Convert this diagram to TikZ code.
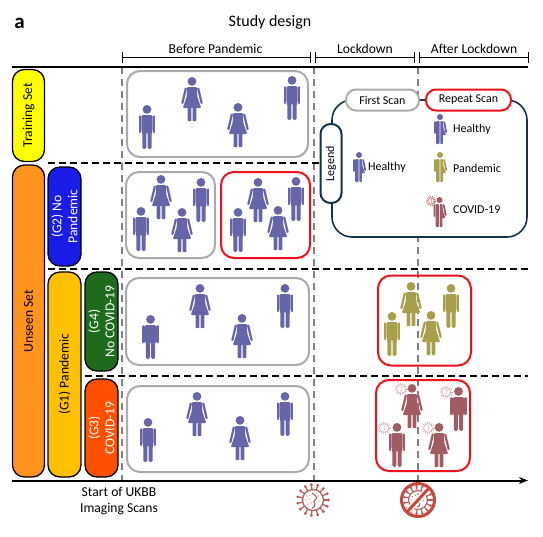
\documentclass[tikz,border=0pt]{standalone}
\usepackage{fontspec}
\setmainfont{Carlito}
\usetikzlibrary{arrows.meta}
\definecolor{hblue}{HTML}{6565A8}
\definecolor{polive}{HTML}{A89F4C}
\definecolor{cred}{HTML}{A05C62}
\definecolor{vred}{HTML}{B9605C}
\definecolor{banred}{HTML}{C9463C}
\definecolor{legnavy}{HTML}{12344A}
\definecolor{boxgray}{HTML}{ABABAB}
\definecolor{dashgray}{HTML}{808080}
\definecolor{scanred}{HTML}{F2101A}
\definecolor{trainyellow}{HTML}{FFFF00}
\definecolor{unseenorange}{HTML}{FF931E}
\definecolor{gtwoblue}{HTML}{1C1CE8}
\definecolor{goneyellow}{HTML}{FFC000}
\definecolor{gfourgreen}{HTML}{1E6B1E}
\definecolor{gthreeorange}{HTML}{FF5000}
\tikzset{
  healthy/.style={fill=hblue, draw=hblue},
  pandemic/.style={fill=polive, draw=polive},
  covid/.style={fill=cred, draw=cred},
  txt/.style={inner sep=0pt, font=\fontsize{13.6}{16}\selectfont},
  setbox/.style={draw=black, line width=1.3pt, rounded corners=12pt, inner sep=0pt, align=center, rotate=90, font=\fontsize{13.6}{16}\selectfont},
  graybox/.style={draw=boxgray, line width=2pt, rounded corners=13pt, inner sep=0pt},
  redbox/.style={draw=scanred, line width=2pt, rounded corners=13pt, inner sep=0pt},
  pill/.style={fill=white, line width=2pt, rounded corners=10pt, inner sep=0pt, minimum height=21pt, font=\fontsize{12}{14}\selectfont},
  timedash/.style={dashgray, line width=2pt, dash pattern=on 7pt off 5pt},
  rowdash/.style={black, line width=2pt, dash pattern=on 7pt off 4pt},
  span/.style={black, line width=1.3pt, {Bar[width=11pt]}-{Bar[width=11pt]}},
  man/.pic={
    \path[pic actions, draw=none] (0,4.4) circle[radius=4.4];
    \path[pic actions, draw=none, rounded corners=1.5pt] (-5.6,10) -- (5.6,10) -- (5.6,26) -- (4.6,28) -- (4.6,44) -- (0.6,44) -- (0.6,27) -- (-0.6,27) -- (-0.6,44) -- (-4.6,44) -- (-4.6,28) -- (-5.6,26) -- cycle;
    \path[pic actions, line width=2.6pt, line cap=round] (-7,11.5) -- (-7,27) (7,11.5) -- (7,27);
  },
  woman/.pic={
    \path[pic actions, draw=none] (0,4.4) circle[radius=4.4];
    \path[pic actions, draw=none, rounded corners=1pt] (-4.8,10) -- (4.8,10) -- (5.4,20) -- (9.2,31) -- (-9.2,31) -- (-5.4,20) -- cycle;
    \path[pic actions, draw=none, rounded corners=.8pt] (-4.4,30) -- (-0.7,30) -- (-0.7,44) -- (-4.4,44) -- cycle (0.7,30) -- (4.4,30) -- (4.4,44) -- (0.7,44) -- cycle;
    \path[pic actions, line width=2.2pt, line cap=round] (-6.2,11.5) -- (-9.6,26) (6.2,11.5) -- (9.6,26);
  },
  halfperson/.pic={
    \path[pic actions, draw=none] (0,3) circle[radius=3];
    \path[pic actions, draw=none, rounded corners=1pt] (-.3,7) -- (-3.8,7) -- (-3.8,30) -- (-.3,30) -- cycle;
    \path[pic actions, draw=none, rounded corners=.6pt] (.3,7) -- (2.8,7) -- (3.4,14) -- (6,21) -- (2.8,21) -- (2.8,30) -- (.3,30) -- cycle;
    \path[pic actions, line width=1.8pt, line cap=round] (-5,8) -- (-5,19) (4.2,8) -- (6.2,18);
  },
  virus/.pic={
    \begin{scope}[scale=#1, vred, line width=#1*1.3pt]
      \draw (0,0) circle[radius=10.5];
      \foreach \a in {0,24,...,336} {
        \draw (\a:10.5) -- (\a:15);
        \fill (\a:15.5) circle[radius=1.6];
      }
      \draw[line width=#1*1.1pt] (-1,8) .. controls (6,4) and (-2,2) .. (2,0) .. controls (6,-2) and (2,-5) .. (-1,-7);
      \foreach \x/\y in {-5/4,-7/0,-4/-1,-6/-4,-3/-5,5/-4,6/1,-2/3,3/-7,1/6} {
        \fill (\x,\y) circle[radius=.7];
      }
    \end{scope}
  },
  smallvirus/.pic={
    \begin{scope}[scale=.42, vred!60, line width=.5pt]
      \draw (0,0) circle[radius=10.5];
      \foreach \a in {0,24,...,336} {
        \draw (\a:10.5) -- (\a:15.5);
      }
      \draw (-1,8) .. controls (6,4) and (-2,2) .. (2,0) .. controls (6,-2) and (2,-5) .. (-1,-7);
    \end{scope}
  },
}
\begin{document}
\begin{tikzpicture}[x=1pt, y=-1pt]
\useasboundingbox (0,0) rectangle (543,536);

% Title
\node[font=\fontsize{21}{24}\selectfont\bfseries, inner sep=0pt] (panel) at (19.5,23) {a};
\node[txt, font=\fontsize{16}{18}\selectfont] (title) at (270,22) {Study design};

% Timeline spans
\coordinate (topstart) at (12,66.5);
\coordinate (topend) at (528,66.5);
\coordinate (axisstart) at (12,480.5);
\coordinate (axisend) at (528,480.5);
\draw[span] (122,57.5) -- (311,57.5);
\draw[span] (315,57.5) -- (415,57.5);
\draw[span] (419,57.5) -- (529,57.5);
\node[txt] (before) at (215.5,49) {Before Pandemic};
\node[txt] (lockdown) at (365,49) {Lockdown};
\node[txt] (after) at (474,49) {After Lockdown};

% Dashed grid
\foreach \x in {121.5,314,417.5} {
  \draw[timedash] (\x,67) -- (\x,480);
}
\draw[rowdash] (48,163) -- (528,163);
\draw[rowdash] (48,269) -- (528,269);
\draw[rowdash] (85,375.5) -- (528,375.5);

% Axes
\draw[black, line width=2pt] (topstart) -- (topend);
\draw[black, line width=2pt, -{Stealth[length=9pt, width=7pt]}] (axisstart) -- (axisend);

% Sets
\node[setbox, fill=trainyellow, minimum width=92pt, minimum height=32pt] (training) at (28.5,115.5) {Training Set};
\node[setbox, fill=unseenorange, minimum width=312pt, minimum height=32pt] (unseen) at (28.5,321) {Unseen Set};
\node[setbox, fill=gtwoblue, text=white, minimum width=99pt, minimum height=33pt] (gtwo) at (64.5,216.5) {(G2) No\\Pandemic};
\node[setbox, fill=goneyellow, minimum width=205pt, minimum height=33pt] (gone) at (64.5,374.5) {(G1) Pandemic};
\node[setbox, fill=gfourgreen, text=white, minimum width=99pt, minimum height=33pt] (gfour) at (101.5,321.5) {(G4)\\No COVID-19};
\node[setbox, fill=gthreeorange, text=white, minimum width=98pt, minimum height=33pt] (gthree) at (101.5,428) {(G3)\\COVID-19};

% Scan groups
\node[graybox, minimum width=181pt, minimum height=86pt] (trainscan) at (217.5,114) {};
\node[graybox, minimum width=89pt, minimum height=86pt] (nopanfirst) at (170.5,215) {};
\node[redbox, minimum width=89pt, minimum height=86pt] (nopanrepeat) at (265.5,215) {};
\node[graybox, minimum width=183pt, minimum height=87pt] (nocovfirst) at (217.5,321.5) {};
\node[graybox, minimum width=182pt, minimum height=86pt] (covfirst) at (218,429) {};
\node[redbox, minimum width=93pt, minimum height=90pt] (nocovrepeat) at (424.5,320.5) {};
\node[redbox, minimum width=94pt, minimum height=91pt] (covrepeat) at (423,425.5) {};

% Training set people
\pic[healthy] at (147,105) {man};
\pic[healthy] at (192,77) {woman};
\pic[healthy] at (238,103) {woman};
\pic[healthy] at (292,76) {man};

% No pandemic people
\pic[healthy] at (141,207) {man};
\pic[healthy] at (161,175) {woman};
\pic[healthy] at (182,208) {woman};
\pic[healthy] at (201,178) {man};
\pic[healthy] at (238,208) {man};
\pic[healthy] at (258,178) {woman};
\pic[healthy] at (278,206) {woman};
\pic[healthy] at (296,177) {man};

% G4 people
\pic[healthy] at (150.5,315) {man};
\pic[healthy] at (200,284) {woman};
\pic[healthy] at (242,314) {woman};
\pic[healthy] at (285,284) {man};
\pic[pandemic] at (392,312) {man};
\pic[pandemic] at (411,282) {woman};
\pic[pandemic] at (431,311) {woman};
\pic[pandemic] at (451,284) {man};

% G3 people
\pic[healthy] at (148,418) {man};
\pic[healthy] at (197,392) {woman};
\pic[healthy] at (240,416) {woman};
\pic[healthy] at (285,392) {man};
\pic[covid] at (397,423) {man};
\pic[covid] at (412,384) {woman};
\pic[covid] at (439,423) {woman};
\pic[covid] at (458.5,387) {man};
\pic at (384,428) {smallvirus};
\pic at (401,389) {smallvirus};
\pic at (428,428) {smallvirus};
\pic at (446,392) {smallvirus};

% Legend
\node[draw=legnavy, fill=white, line width=1.6pt, rounded corners=20pt, inner sep=0pt, minimum width=195pt, minimum height=137pt] (legendbox) at (429.5,168.5) {};
\node[pill, draw=boxgray, minimum width=73pt] (firstscan) at (382.5,100) {First Scan};
\node[pill, draw=scanred, minimum width=85pt] (repeatscan) at (468.5,100) {Repeat Scan};
\node[pill, draw=legnavy, rotate=90, minimum width=79pt, minimum height=21pt, fill=white] (legend) at (331,163.5) {Legend};
\pic[healthy] at (359,152) {halfperson};
\pic[healthy] at (440,114) {halfperson};
\pic[pandemic] at (440,152) {halfperson};
\pic[covid] at (439.5,197) {halfperson};
\pic at (431,201) {virus=.3};
\node[txt, anchor=west, font=\fontsize{12}{14}\selectfont] (firsthealthy) at (368,167) {Healthy};
\node[txt, anchor=west, font=\fontsize{12}{14}\selectfont] (repeathealthy) at (453,129) {Healthy};
\node[txt, anchor=west, font=\fontsize{12}{14}\selectfont] (repeatpandemic) at (453,168.5) {Pandemic};
\node[txt, anchor=west, font=\fontsize{12}{14}\selectfont] (repeatcovid) at (453,210) {COVID-19};

% Below the axis
\node[txt, align=center] (ukbb) at (119,501) {Start of UKBB\\Imaging Scans};
\pic at (313,500) {virus=1};
\pic at (418,500) {virus=.9};
\draw[white, line width=6pt] (407,512) -- (429,488);
\draw[banred, line width=3pt] (418,500) circle[radius=16.5];
\draw[banred, line width=3pt] (407,512) -- (429,488);
\end{tikzpicture}
\end{document}
